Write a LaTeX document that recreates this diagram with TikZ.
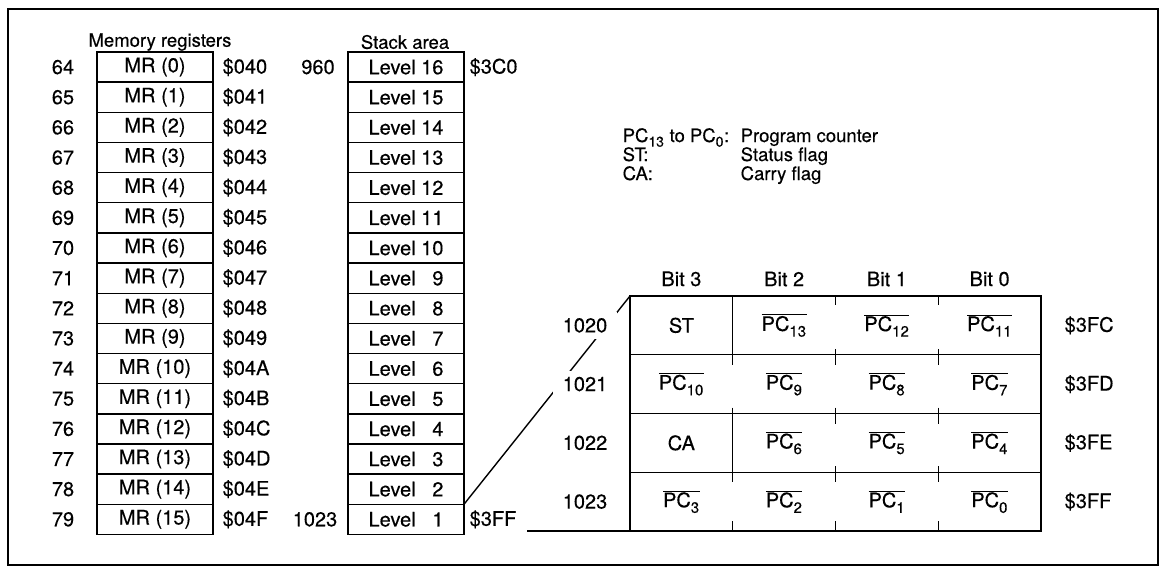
\documentclass[tikz,border=0pt]{standalone}
\usepackage{fontspec}
\setmainfont{TeX Gyre Heros}[FakeBold=0.35]
\usetikzlibrary{calc}
\newcommand{\pcb}[1]{$\overline{\mbox{PC}_{\raisebox{-2.5pt}{\fontsize{15}{15}\selectfont #1}}}$}
\newcommand{\pcs}[1]{PC$_{\raisebox{-2pt}{\fontsize{14}{14}\selectfont #1}}$}
\begin{document}
\begin{tikzpicture}[x=1pt,y=-1pt,line width=1.4pt,
  every node/.style={font=\fontsize{20}{23}\selectfont, inner sep=2pt},
  regbox/.style={draw, minimum width=116pt, minimum height=30.15pt, inner sep=0pt, outer sep=0pt, anchor=north west},
  hdr/.style={font=\fontsize{18.5}{21}\selectfont},
  lgd/.style={font=\fontsize{18.5}{21}\selectfont, anchor=base west},
  bitcell/.style={minimum width=102.75pt, minimum height=58.75pt, inner sep=0pt, outer sep=0pt},
  lbl/.style={fill=white, inner xsep=10pt, inner ysep=6pt}]
\useasboundingbox (0,0) rectangle (1164,568);
\draw[line width=1.6pt] (8,9) rectangle (1158,565);

% memory registers and stack area
\foreach \i/\h in {0/0,1/1,2/2,3/3,4/4,5/5,6/6,7/7,8/8,9/9,10/A,11/B,12/C,13/D,14/E,15/F}{
  \pgfmathsetmacro\yt{52+30.15*\i}
  \pgfmathsetmacro\yc{\yt+15.075}
  \pgfmathtruncatemacro\n{64+\i}
  \pgfmathtruncatemacro\lv{16-\i}
  \node[regbox] (mr\i) at (97,\yt) {MR (\i)};
  \node (num\i) at (63,\yc) {\n};
  \node[anchor=west] (hx\i) at (220,\yc) {\$04\h};
  \node[regbox] (lv\i) at (348,\yt) {Level \ifnum\lv<10 \phantom{1}\fi\lv};
}
\node[hdr] (hmr) at (160,42) {Memory registers};
\node[hdr] (hst) at (405,42) {Stack area};
\node (s960) at (318,67.075) {960};
\node (s1023) at (315,519.33) {1023};
\node[anchor=west] (s3c0) at (467,67.075) {\$3C0};
\node[anchor=west] (s3ff) at (467,519.33) {\$3FF};

% legend
\node[lgd] (lg1) at (620,142) {\pcs{13} to \pcs{0}:};
\node[lgd] (lg2) at (620,161) {ST:};
\node[lgd] (lg3) at (620,180) {CA:};
\node[lgd] (ld1) at (738,142) {Program counter};
\node[lgd] (ld2) at (738,161) {Status flag};
\node[lgd] (ld3) at (738,180) {Carry flag};

% bit table cells
\foreach \r/\c/\t in {0/0/ST,0/1/\pcb{13},0/2/\pcb{12},0/3/\pcb{11},
  1/0/\pcb{10},1/1/\pcb{9},1/2/\pcb{8},1/3/\pcb{7},
  2/0/CA,2/1/\pcb{6},2/2/\pcb{5},2/3/\pcb{4},
  3/0/\pcb{3},3/1/\pcb{2},3/2/\pcb{1},3/3/\pcb{0}}{
  \node[bitcell] (c\r\c) at ({630+102.75*(\c+0.5)},{296+58.75*(\r+0.5)}) {\t};
}
\draw (c00.north west) rectangle (c33.south east);
\foreach \r in {1,2,3} \draw (c\r0.north west) -- (c\r3.north east);
\draw (c00.north east) -- (c00.south east);
\draw (c20.north east) -- (c20.south east);
\foreach \c in {1,2,3}{
  \draw (c0\c.north west) -- ++(0,9);
  \foreach \r in {1,2,3} \draw ($(c\r\c.north west)+(0,-6)$) -- ++(0,16);
  \draw (c3\c.south west) -- ++(0,-10);
}
\foreach \c/\b in {0/3,1/2,2/1,3/0}
  \node[anchor=south] (bh\c) at ($(c0\c.north)+(0,-7)$) {Bit \b};

% connectors from stack to bit table
\draw (lv15.north east) -- (c00.north west);
\draw ($(s3ff.east |- c30.south west)+(8,0)$) -- (c30.south west);
\foreach \r/\a/\x in {0/1020/C,1/1021/D,2/1022/E,3/1023/F}{
  \node[lbl] (ra\r) at (585,{296+58.75*(\r+0.5)}) {\a};
  \node[anchor=west] (rh\r) at (1062,{296+58.75*(\r+0.5)}) {\$3F\x};
}
\end{tikzpicture}
\end{document}
